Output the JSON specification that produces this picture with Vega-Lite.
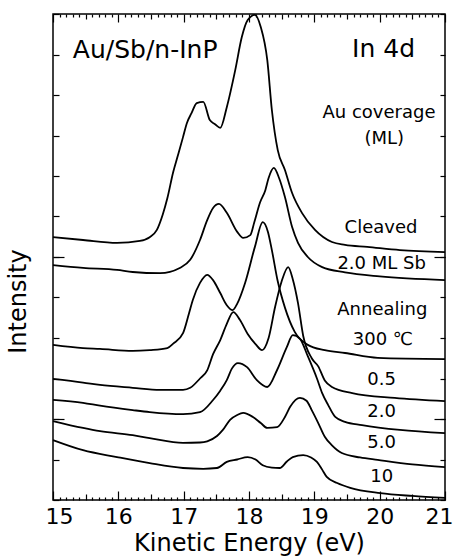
{
  "$schema": "https://vega.github.io/schema/vega-lite/v6.json",
  "width": 392,
  "height": 486,
  "autosize": {"type": "none"},
  "padding": {"left": 53, "top": 14, "right": 12, "bottom": 60},
  "background": "white",
  "config": {
    "view": {"stroke": "black", "strokeWidth": 1.5},
    "font": "DejaVu Sans",
    "axis": {
      "grid": false,
      "domain": false,
      "tickColor": "black",
      "tickWidth": 1.2,
      "labelColor": "black",
      "titleColor": "black",
      "titleFontWeight": "normal",
      "labelFont": "DejaVu Sans",
      "titleFont": "DejaVu Sans"
    }
  },
  "datasets": {
    "spectra": [
      {"curve": "Cleaved", "energy": 15.00, "intensity": 6.49},
      {"curve": "Cleaved", "energy": 15.46, "intensity": 6.42},
      {"curve": "Cleaved", "energy": 15.98, "intensity": 6.35},
      {"curve": "Cleaved", "energy": 16.33, "intensity": 6.40},
      {"curve": "Cleaved", "energy": 16.48, "intensity": 6.49},
      {"curve": "Cleaved", "energy": 16.59, "intensity": 6.67},
      {"curve": "Cleaved", "energy": 16.68, "intensity": 7.05},
      {"curve": "Cleaved", "energy": 16.75, "intensity": 7.45},
      {"curve": "Cleaved", "energy": 16.84, "intensity": 8.10},
      {"curve": "Cleaved", "energy": 16.91, "intensity": 8.50},
      {"curve": "Cleaved", "energy": 16.99, "intensity": 8.96},
      {"curve": "Cleaved", "energy": 17.05, "intensity": 9.31},
      {"curve": "Cleaved", "energy": 17.12, "intensity": 9.55},
      {"curve": "Cleaved", "energy": 17.20, "intensity": 9.80},
      {"curve": "Cleaved", "energy": 17.30, "intensity": 9.83},
      {"curve": "Cleaved", "energy": 17.40, "intensity": 9.38},
      {"curve": "Cleaved", "energy": 17.48, "intensity": 9.28},
      {"curve": "Cleaved", "energy": 17.56, "intensity": 9.19},
      {"curve": "Cleaved", "energy": 17.66, "intensity": 9.70},
      {"curve": "Cleaved", "energy": 17.79, "intensity": 10.62},
      {"curve": "Cleaved", "energy": 17.89, "intensity": 11.43},
      {"curve": "Cleaved", "energy": 17.98, "intensity": 11.85},
      {"curve": "Cleaved", "energy": 18.09, "intensity": 11.98},
      {"curve": "Cleaved", "energy": 18.18, "intensity": 11.68},
      {"curve": "Cleaved", "energy": 18.28, "intensity": 10.86},
      {"curve": "Cleaved", "energy": 18.35, "intensity": 9.63},
      {"curve": "Cleaved", "energy": 18.44, "intensity": 8.64},
      {"curve": "Cleaved", "energy": 18.55, "intensity": 8.15},
      {"curve": "Cleaved", "energy": 18.66, "intensity": 7.58},
      {"curve": "Cleaved", "energy": 18.81, "intensity": 7.09},
      {"curve": "Cleaved", "energy": 19.01, "intensity": 6.67},
      {"curve": "Cleaved", "energy": 19.27, "intensity": 6.37},
      {"curve": "Cleaved", "energy": 19.47, "intensity": 6.30},
      {"curve": "Cleaved", "energy": 19.81, "intensity": 6.25},
      {"curve": "Cleaved", "energy": 20.31, "intensity": 6.17},
      {"curve": "Cleaved", "energy": 21.00, "intensity": 6.12},

      {"curve": "2.0 ML Sb", "energy": 15.00, "intensity": 5.80},
      {"curve": "2.0 ML Sb", "energy": 15.46, "intensity": 5.73},
      {"curve": "2.0 ML Sb", "energy": 15.98, "intensity": 5.68},
      {"curve": "2.0 ML Sb", "energy": 16.22, "intensity": 5.63},
      {"curve": "2.0 ML Sb", "energy": 16.64, "intensity": 5.60},
      {"curve": "2.0 ML Sb", "energy": 16.94, "intensity": 5.73},
      {"curve": "2.0 ML Sb", "energy": 17.10, "intensity": 5.93},
      {"curve": "2.0 ML Sb", "energy": 17.25, "intensity": 6.42},
      {"curve": "2.0 ML Sb", "energy": 17.36, "intensity": 6.91},
      {"curve": "2.0 ML Sb", "energy": 17.45, "intensity": 7.21},
      {"curve": "2.0 ML Sb", "energy": 17.54, "intensity": 7.31},
      {"curve": "2.0 ML Sb", "energy": 17.66, "intensity": 7.09},
      {"curve": "2.0 ML Sb", "energy": 17.82, "intensity": 6.62},
      {"curve": "2.0 ML Sb", "energy": 17.91, "intensity": 6.47},
      {"curve": "2.0 ML Sb", "energy": 18.02, "intensity": 6.54},
      {"curve": "2.0 ML Sb", "energy": 18.08, "intensity": 6.85},
      {"curve": "2.0 ML Sb", "energy": 18.17, "intensity": 7.35},
      {"curve": "2.0 ML Sb", "energy": 18.25, "intensity": 7.65},
      {"curve": "2.0 ML Sb", "energy": 18.30, "intensity": 7.95},
      {"curve": "2.0 ML Sb", "energy": 18.38, "intensity": 8.20},
      {"curve": "2.0 ML Sb", "energy": 18.46, "intensity": 7.95},
      {"curve": "2.0 ML Sb", "energy": 18.55, "intensity": 7.48},
      {"curve": "2.0 ML Sb", "energy": 18.66, "intensity": 6.74},
      {"curve": "2.0 ML Sb", "energy": 18.75, "intensity": 6.35},
      {"curve": "2.0 ML Sb", "energy": 18.90, "intensity": 6.00},
      {"curve": "2.0 ML Sb", "energy": 19.12, "intensity": 5.75},
      {"curve": "2.0 ML Sb", "energy": 19.47, "intensity": 5.62},
      {"curve": "2.0 ML Sb", "energy": 20.00, "intensity": 5.52},
      {"curve": "2.0 ML Sb", "energy": 21.00, "intensity": 5.43},

      {"curve": "Annealing 300", "energy": 15.00, "intensity": 3.83},
      {"curve": "Annealing 300", "energy": 15.46, "intensity": 3.75},
      {"curve": "Annealing 300", "energy": 15.72, "intensity": 3.73},
      {"curve": "Annealing 300", "energy": 16.22, "intensity": 3.68},
      {"curve": "Annealing 300", "energy": 16.48, "intensity": 3.70},
      {"curve": "Annealing 300", "energy": 16.75, "intensity": 3.75},
      {"curve": "Annealing 300", "energy": 16.84, "intensity": 3.86},
      {"curve": "Annealing 300", "energy": 16.99, "intensity": 4.12},
      {"curve": "Annealing 300", "energy": 17.08, "intensity": 4.60},
      {"curve": "Annealing 300", "energy": 17.14, "intensity": 4.94},
      {"curve": "Annealing 300", "energy": 17.25, "intensity": 5.36},
      {"curve": "Annealing 300", "energy": 17.36, "intensity": 5.56},
      {"curve": "Annealing 300", "energy": 17.45, "intensity": 5.43},
      {"curve": "Annealing 300", "energy": 17.56, "intensity": 5.11},
      {"curve": "Annealing 300", "energy": 17.66, "intensity": 4.81},
      {"curve": "Annealing 300", "energy": 17.75, "intensity": 4.69},
      {"curve": "Annealing 300", "energy": 17.82, "intensity": 4.85},
      {"curve": "Annealing 300", "energy": 17.94, "intensity": 5.36},
      {"curve": "Annealing 300", "energy": 18.09, "intensity": 6.25},
      {"curve": "Annealing 300", "energy": 18.21, "intensity": 6.86},
      {"curve": "Annealing 300", "energy": 18.29, "intensity": 6.62},
      {"curve": "Annealing 300", "energy": 18.35, "intensity": 6.17},
      {"curve": "Annealing 300", "energy": 18.44, "intensity": 5.40},
      {"curve": "Annealing 300", "energy": 18.55, "intensity": 4.75},
      {"curve": "Annealing 300", "energy": 18.70, "intensity": 4.15},
      {"curve": "Annealing 300", "energy": 18.90, "intensity": 3.83},
      {"curve": "Annealing 300", "energy": 19.16, "intensity": 3.70},
      {"curve": "Annealing 300", "energy": 19.47, "intensity": 3.63},
      {"curve": "Annealing 300", "energy": 19.97, "intensity": 3.51},
      {"curve": "Annealing 300", "energy": 21.00, "intensity": 3.48},

      {"curve": "0.5", "energy": 15.00, "intensity": 2.99},
      {"curve": "0.5", "energy": 15.46, "intensity": 2.90},
      {"curve": "0.5", "energy": 15.72, "intensity": 2.84},
      {"curve": "0.5", "energy": 16.22, "intensity": 2.77},
      {"curve": "0.5", "energy": 16.64, "intensity": 2.72},
      {"curve": "0.5", "energy": 16.99, "intensity": 2.72},
      {"curve": "0.5", "energy": 17.10, "intensity": 2.77},
      {"curve": "0.5", "energy": 17.25, "intensity": 3.00},
      {"curve": "0.5", "energy": 17.36, "intensity": 3.20},
      {"curve": "0.5", "energy": 17.45, "intensity": 3.60},
      {"curve": "0.5", "energy": 17.56, "intensity": 3.95},
      {"curve": "0.5", "energy": 17.66, "intensity": 4.35},
      {"curve": "0.5", "energy": 17.76, "intensity": 4.64},
      {"curve": "0.5", "energy": 17.86, "intensity": 4.45},
      {"curve": "0.5", "energy": 17.98, "intensity": 4.10},
      {"curve": "0.5", "energy": 18.10, "intensity": 3.85},
      {"curve": "0.5", "energy": 18.20, "intensity": 3.70},
      {"curve": "0.5", "energy": 18.30, "intensity": 4.00},
      {"curve": "0.5", "energy": 18.40, "intensity": 4.77},
      {"curve": "0.5", "energy": 18.50, "intensity": 5.40},
      {"curve": "0.5", "energy": 18.60, "intensity": 5.75},
      {"curve": "0.5", "energy": 18.67, "intensity": 5.45},
      {"curve": "0.5", "energy": 18.75, "intensity": 4.86},
      {"curve": "0.5", "energy": 18.83, "intensity": 4.05},
      {"curve": "0.5", "energy": 18.96, "intensity": 3.50},
      {"curve": "0.5", "energy": 19.06, "intensity": 3.30},
      {"curve": "0.5", "energy": 19.16, "intensity": 2.95},
      {"curve": "0.5", "energy": 19.27, "intensity": 2.79},
      {"curve": "0.5", "energy": 19.58, "intensity": 2.64},
      {"curve": "0.5", "energy": 20.23, "intensity": 2.52},
      {"curve": "0.5", "energy": 21.00, "intensity": 2.44},

      {"curve": "2.0", "energy": 15.00, "intensity": 2.47},
      {"curve": "2.0", "energy": 15.46, "intensity": 2.40},
      {"curve": "2.0", "energy": 15.72, "intensity": 2.33},
      {"curve": "2.0", "energy": 16.22, "intensity": 2.22},
      {"curve": "2.0", "energy": 16.48, "intensity": 2.17},
      {"curve": "2.0", "energy": 16.99, "intensity": 2.12},
      {"curve": "2.0", "energy": 17.25, "intensity": 2.17},
      {"curve": "2.0", "energy": 17.45, "intensity": 2.47},
      {"curve": "2.0", "energy": 17.56, "intensity": 2.70},
      {"curve": "2.0", "energy": 17.66, "intensity": 2.96},
      {"curve": "2.0", "energy": 17.74, "intensity": 3.25},
      {"curve": "2.0", "energy": 17.83, "intensity": 3.38},
      {"curve": "2.0", "energy": 17.97, "intensity": 3.28},
      {"curve": "2.0", "energy": 18.12, "intensity": 2.96},
      {"curve": "2.0", "energy": 18.28, "intensity": 2.79},
      {"curve": "2.0", "energy": 18.43, "intensity": 3.21},
      {"curve": "2.0", "energy": 18.58, "intensity": 3.78},
      {"curve": "2.0", "energy": 18.67, "intensity": 4.07},
      {"curve": "2.0", "energy": 18.78, "intensity": 3.98},
      {"curve": "2.0", "energy": 18.90, "intensity": 3.55},
      {"curve": "2.0", "energy": 19.04, "intensity": 3.00},
      {"curve": "2.0", "energy": 19.12, "intensity": 2.64},
      {"curve": "2.0", "energy": 19.21, "intensity": 2.35},
      {"curve": "2.0", "energy": 19.32, "intensity": 2.05},
      {"curve": "2.0", "energy": 19.47, "intensity": 1.93},
      {"curve": "2.0", "energy": 19.73, "intensity": 1.85},
      {"curve": "2.0", "energy": 20.31, "intensity": 1.73},
      {"curve": "2.0", "energy": 21.00, "intensity": 1.65},

      {"curve": "5.0", "energy": 15.00, "intensity": 1.95},
      {"curve": "5.0", "energy": 15.46, "intensity": 1.78},
      {"curve": "5.0", "energy": 15.72, "intensity": 1.70},
      {"curve": "5.0", "energy": 16.22, "intensity": 1.60},
      {"curve": "5.0", "energy": 16.48, "intensity": 1.53},
      {"curve": "5.0", "energy": 16.99, "intensity": 1.41},
      {"curve": "5.0", "energy": 17.25, "intensity": 1.42},
      {"curve": "5.0", "energy": 17.36, "intensity": 1.45},
      {"curve": "5.0", "energy": 17.51, "intensity": 1.58},
      {"curve": "5.0", "energy": 17.60, "intensity": 1.73},
      {"curve": "5.0", "energy": 17.71, "intensity": 1.98},
      {"curve": "5.0", "energy": 17.82, "intensity": 2.10},
      {"curve": "5.0", "energy": 17.91, "intensity": 2.15},
      {"curve": "5.0", "energy": 18.06, "intensity": 2.05},
      {"curve": "5.0", "energy": 18.18, "intensity": 1.90},
      {"curve": "5.0", "energy": 18.28, "intensity": 1.78},
      {"curve": "5.0", "energy": 18.43, "intensity": 1.80},
      {"curve": "5.0", "energy": 18.55, "intensity": 2.05},
      {"curve": "5.0", "energy": 18.63, "intensity": 2.30},
      {"curve": "5.0", "energy": 18.78, "intensity": 2.52},
      {"curve": "5.0", "energy": 18.88, "intensity": 2.45},
      {"curve": "5.0", "energy": 18.96, "intensity": 2.22},
      {"curve": "5.0", "energy": 19.06, "intensity": 1.90},
      {"curve": "5.0", "energy": 19.16, "intensity": 1.56},
      {"curve": "5.0", "energy": 19.27, "intensity": 1.35},
      {"curve": "5.0", "energy": 19.42, "intensity": 1.16},
      {"curve": "5.0", "energy": 19.70, "intensity": 1.05},
      {"curve": "5.0", "energy": 19.97, "intensity": 0.99},
      {"curve": "5.0", "energy": 20.50, "intensity": 0.88},
      {"curve": "5.0", "energy": 21.00, "intensity": 0.81},

      {"curve": "10", "energy": 15.00, "intensity": 1.48},
      {"curve": "10", "energy": 15.46, "intensity": 1.23},
      {"curve": "10", "energy": 15.98, "intensity": 1.06},
      {"curve": "10", "energy": 16.48, "intensity": 0.91},
      {"curve": "10", "energy": 16.99, "intensity": 0.79},
      {"curve": "10", "energy": 17.30, "intensity": 0.77},
      {"curve": "10", "energy": 17.51, "intensity": 0.79},
      {"curve": "10", "energy": 17.66, "intensity": 0.94},
      {"curve": "10", "energy": 17.82, "intensity": 1.00},
      {"curve": "10", "energy": 17.98, "intensity": 1.06},
      {"curve": "10", "energy": 18.10, "intensity": 1.00},
      {"curve": "10", "energy": 18.21, "intensity": 0.86},
      {"curve": "10", "energy": 18.35, "intensity": 0.80},
      {"curve": "10", "energy": 18.47, "intensity": 0.79},
      {"curve": "10", "energy": 18.58, "intensity": 0.95},
      {"curve": "10", "energy": 18.67, "intensity": 1.06},
      {"curve": "10", "energy": 18.83, "intensity": 1.11},
      {"curve": "10", "energy": 18.95, "intensity": 1.05},
      {"curve": "10", "energy": 19.04, "intensity": 0.94},
      {"curve": "10", "energy": 19.12, "intensity": 0.75},
      {"curve": "10", "energy": 19.19, "intensity": 0.57},
      {"curve": "10", "energy": 19.35, "intensity": 0.42},
      {"curve": "10", "energy": 19.55, "intensity": 0.30},
      {"curve": "10", "energy": 20.01, "intensity": 0.17},
      {"curve": "10", "energy": 20.50, "intensity": 0.10},
      {"curve": "10", "energy": 21.00, "intensity": 0.05}
    ],
    "sample": [
      {"text": "Au/Sb/n-InP", "energy": 16.41, "intensity": 10.91},
      {"text": "In 4d", "energy": 20.06, "intensity": 10.94}
    ],
    "conditions": [
      {"text": "Au coverage", "energy": 19.99, "intensity": 9.43},
      {"text": "(ML)", "energy": 20.07, "intensity": 8.79},
      {"text": "Cleaved", "energy": 20.02, "intensity": 6.59},
      {"text": "2.0 ML Sb", "energy": 20.03, "intensity": 5.70},
      {"text": "Annealing", "energy": 20.04, "intensity": 4.57},
      {"text": "300 ℃", "energy": 20.05, "intensity": 3.83},
      {"text": "0.5", "energy": 20.03, "intensity": 2.84},
      {"text": "2.0", "energy": 20.03, "intensity": 2.05},
      {"text": "5.0", "energy": 20.03, "intensity": 1.28},
      {"text": "10", "energy": 20.03, "intensity": 0.44}
    ]
  },
  "resolve": {"axis": {"x": "independent", "y": "independent"}},
  "layer": [
    {
      "data": {"name": "spectra"},
      "mark": {"type": "line", "color": "black", "strokeWidth": 1.8, "interpolate": "monotone"},
      "encoding": {
        "x": {
          "field": "energy",
          "type": "quantitative",
          "scale": {"domain": [15, 21], "nice": false, "zero": false},
          "axis": {
            "orient": "bottom",
            "values": [15, 16, 17, 18, 19, 20, 21],
            "offset": -9,
            "tickSize": 9,
            "format": "d",
            "labelOverlap": false,
            "labelFlush": true,
            "labelFlushOffset": 8,
            "labelBound": false,
            "labelFontSize": 22,
            "labelPadding": 6,
            "title": "Kinetic Energy (eV)",
            "titleFontSize": 24,
            "titlePadding": 4
          }
        },
        "y": {
          "field": "intensity",
          "type": "quantitative",
          "scale": {"domain": [0, 12], "nice": false},
          "axis": {
            "orient": "left",
            "values": [0, 1, 2, 3, 4, 5, 6, 7, 8, 9, 10, 11, 12],
            "offset": -6,
            "tickSize": 6,
            "labels": false,
            "title": "Intensity",
            "titleFontSize": 24,
            "titlePadding": 22,
            "titleY": 287
          }
        },
        "detail": {"field": "curve", "type": "nominal"}
      }
    },
    {
      "data": {"name": "conditions"},
      "mark": {"type": "text", "color": "black", "fontSize": 18, "align": "center", "baseline": "alphabetic"},
      "encoding": {
        "x": {
          "field": "energy",
          "type": "quantitative",
          "axis": {
            "orient": "top",
            "values": [15, 16, 17, 18, 19, 20, 21],
            "offset": -8,
            "tickSize": 8,
            "labels": false,
            "title": null
          }
        },
        "y": {
          "field": "intensity",
          "type": "quantitative",
          "axis": {
            "orient": "right",
            "values": [0, 1, 2, 3, 4, 5, 6, 7, 8, 9, 10, 11, 12],
            "offset": -5,
            "tickSize": 5,
            "labels": false,
            "title": null
          }
        },
        "text": {"field": "text", "type": "nominal"}
      }
    },
    {
      "data": {"name": "sample"},
      "mark": {"type": "text", "color": "black", "fontSize": 25, "align": "center", "baseline": "alphabetic"},
      "encoding": {
        "x": {
          "field": "energy",
          "type": "quantitative",
          "axis": {
            "orient": "bottom",
            "values": [15.1, 15.2, 15.3, 15.4, 15.6, 15.7, 15.8, 15.9, 16.1, 16.2, 16.3, 16.4, 16.6, 16.7, 16.8, 16.9, 17.1, 17.2, 17.3, 17.4, 17.6, 17.7, 17.8, 17.9, 18.1, 18.2, 18.3, 18.4, 18.6, 18.7, 18.8, 18.9, 19.1, 19.2, 19.3, 19.4, 19.6, 19.7, 19.8, 19.9, 20.1, 20.2, 20.3, 20.4, 20.6, 20.7, 20.8, 20.9],
            "offset": -3,
            "tickSize": 3,
            "labels": false,
            "title": null
          }
        },
        "y": {
          "field": "intensity",
          "type": "quantitative",
          "axis": {
            "orient": "left",
            "values": [2, 6],
            "offset": -11,
            "tickSize": 11,
            "labels": false,
            "title": null
          }
        },
        "text": {"field": "text", "type": "nominal"}
      }
    },
    {
      "data": {"name": "spectra"},
      "mark": {"type": "line", "opacity": 0},
      "encoding": {
        "x": {
          "field": "energy",
          "type": "quantitative",
          "axis": {
            "orient": "top",
            "values": [15.1, 15.2, 15.3, 15.4, 15.6, 15.7, 15.8, 15.9, 16.1, 16.2, 16.3, 16.4, 16.6, 16.7, 16.8, 16.9, 17.1, 17.2, 17.3, 17.4, 17.6, 17.7, 17.8, 17.9, 18.1, 18.2, 18.3, 18.4, 18.6, 18.7, 18.8, 18.9, 19.1, 19.2, 19.3, 19.4, 19.6, 19.7, 19.8, 19.9, 20.1, 20.2, 20.3, 20.4, 20.6, 20.7, 20.8, 20.9],
            "offset": -3,
            "tickSize": 3,
            "labels": false,
            "title": null
          }
        },
        "y": {
          "field": "intensity",
          "type": "quantitative",
          "axis": {
            "orient": "right",
            "values": [2, 6],
            "offset": -11,
            "tickSize": 11,
            "labels": false,
            "title": null
          }
        },
        "detail": {"field": "curve", "type": "nominal"}
      }
    },
    {
      "data": {"name": "spectra"},
      "mark": {"type": "line", "opacity": 0},
      "encoding": {
        "x": {
          "field": "energy",
          "type": "quantitative",
          "axis": {
            "orient": "bottom",
            "values": [15.5, 16.5, 17.5, 18.5, 19.5, 20.5],
            "offset": -6,
            "tickSize": 6,
            "labels": false,
            "title": null
          }
        },
        "y": {"field": "intensity", "type": "quantitative", "axis": null},
        "detail": {"field": "curve", "type": "nominal"}
      }
    },
    {
      "data": {"name": "spectra"},
      "mark": {"type": "line", "opacity": 0},
      "encoding": {
        "x": {
          "field": "energy",
          "type": "quantitative",
          "axis": {
            "orient": "top",
            "values": [15.5, 16.5, 17.5, 18.5, 19.5, 20.5],
            "offset": -5,
            "tickSize": 5,
            "labels": false,
            "title": null
          }
        },
        "y": {"field": "intensity", "type": "quantitative", "axis": null},
        "detail": {"field": "curve", "type": "nominal"}
      }
    }
  ]
}
